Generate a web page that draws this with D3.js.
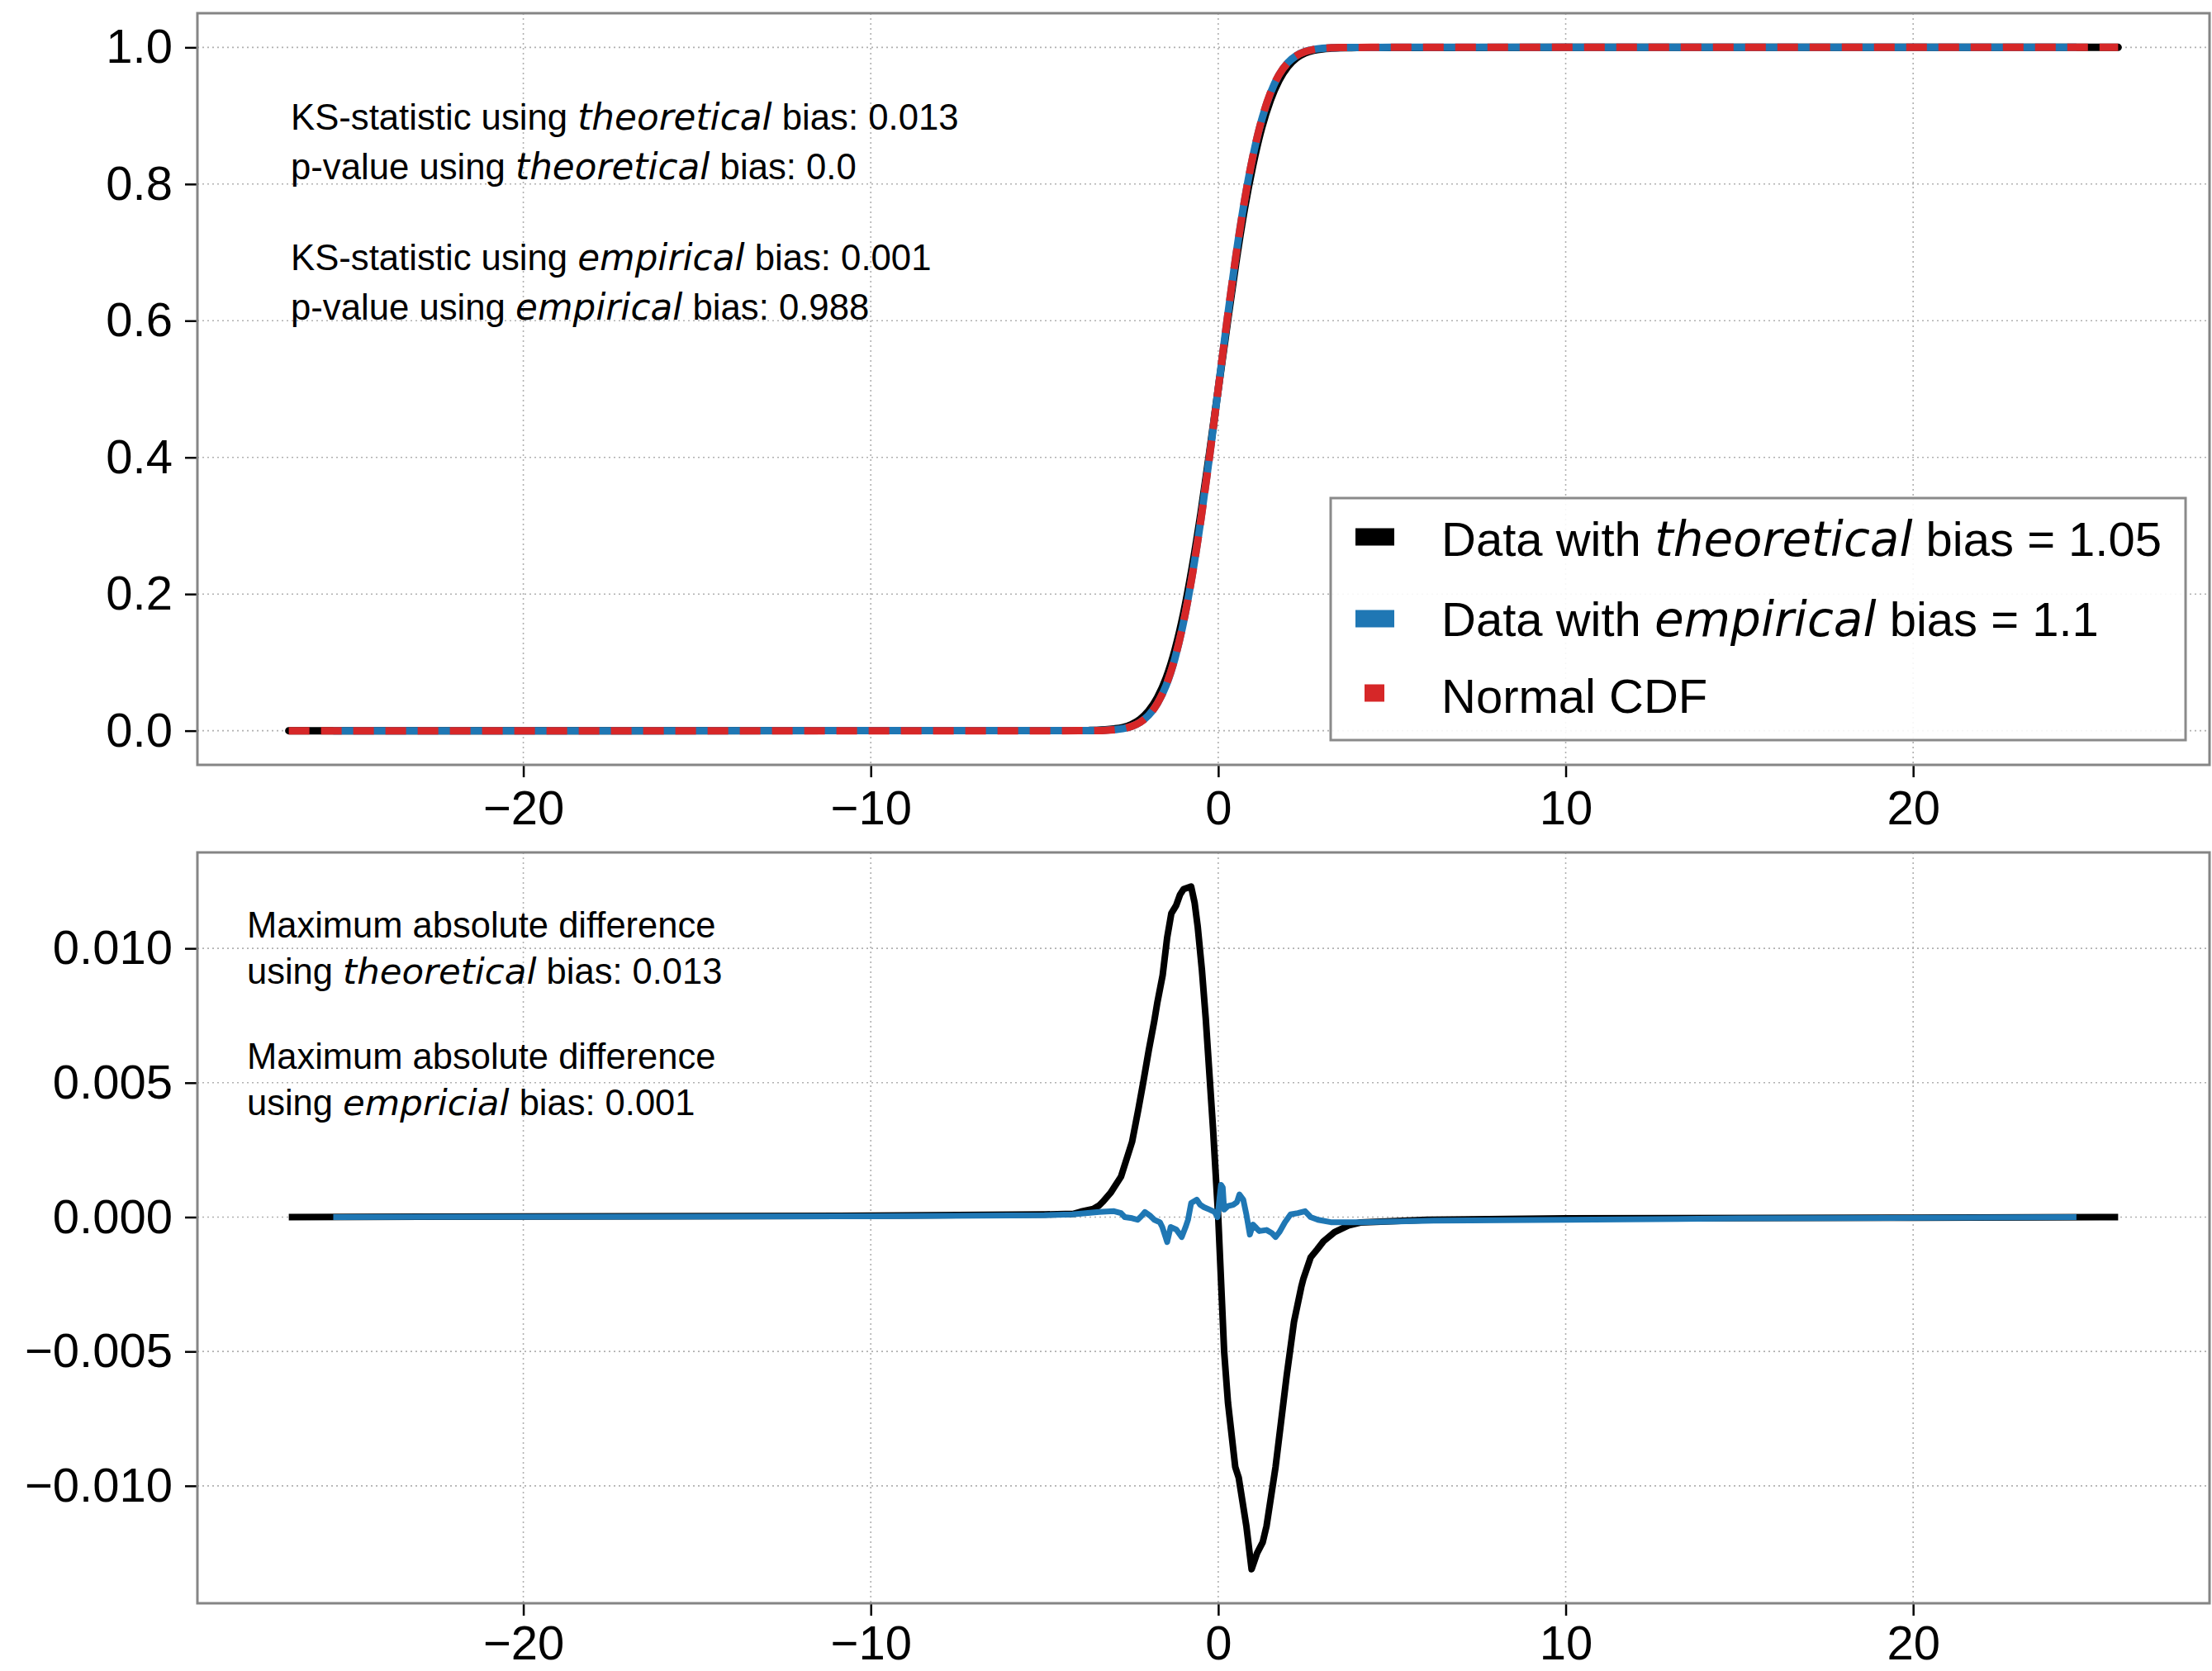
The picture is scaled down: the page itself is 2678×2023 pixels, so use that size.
<!DOCTYPE html>
<html>
<head>
<meta charset="utf-8">
<script src="https://cdn.jsdelivr.net/npm/d3@7"></script>
<style>
  html, body { margin: 0; padding: 0; background: #ffffff; }
  svg { display: block; }
  text { font-family: "Liberation Sans", Arial, Helvetica, sans-serif; fill: #000; }
  .it { font-family: "DejaVu Sans", sans-serif; font-style: italic; }
</style>
</head>
<body>
<svg id="chart" width="2678" height="2023"></svg>
<script>
// ---------------- data ----------------
const xTicks = [-20, -10, 0, 10, 20];
const xTickLabels = ["\u221220", "\u221210", "0", "10", "20"];
const cdfTicks = [0.0, 0.2, 0.4, 0.6, 0.8, 1.0];
const cdfTickLabels = ["0.0", "0.2", "0.4", "0.6", "0.8", "1.0"];
const diffTicks = [-0.010, -0.005, 0.0, 0.005, 0.010];
const diffTickLabels = ["\u22120.010", "\u22120.005", "0.000", "0.005", "0.010"];

// x positions of the CDF samples
const cdfX = [-26.75, -10, -5, -4, -3.75, -3.5, -3.25, -3, -2.75, -2.5, -2.25, -2, -1.75, -1.5, -1.25, -1,
  -0.75, -0.5, -0.25, 0, 0.25, 0.5, 0.75, 1, 1.25, 1.5, 1.75, 2, 2.25, 2.5, 2.75, 3, 3.25, 3.5, 3.75, 4, 5, 10, 25.9];
// Normal CDF (red dashed)
const normalCdf = [0, 0, 0, 0.00003, 0.00009, 0.00023, 0.00058, 0.00135, 0.00298, 0.00621, 0.01222, 0.02275,
  0.04006, 0.06681, 0.10565, 0.15866, 0.22663, 0.30854, 0.40129, 0.5, 0.59871, 0.69146, 0.77337, 0.84134,
  0.89435, 0.93319, 0.95994, 0.97725, 0.98778, 0.99379, 0.99702, 0.99865, 0.99942, 0.99977, 0.99991, 0.99997, 1, 1, 1];
// Data with theoretical bias (black)
const theoCdf = [0, 0.00002, 0.00008, 0.0001, 0.0003, 0.0006, 0.0013, 0.0026, 0.0047, 0.0089, 0.0165, 0.0290,
  0.0483, 0.0768, 0.1173, 0.1709, 0.2388, 0.3180, 0.4065, 0.5000, 0.5922, 0.6821, 0.7622, 0.8284,
  0.8822, 0.9226, 0.9519, 0.9717, 0.9844, 0.9917, 0.9957, 0.9978, 0.9988, 0.9994, 0.9996, 0.9998, 0.9999, 1, 1];
// x positions of the empirical-bias CDF (shorter range)
const empX = [-25.47, -10, -5, -4, -3.75, -3.5, -3.25, -3, -2.75, -2.5, -2.25, -2, -1.75, -1.5, -1.25, -1,
  -0.75, -0.5, -0.25, 0, 0.25, 0.5, 0.75, 1, 1.25, 1.5, 1.75, 2, 2.25, 2.5, 2.75, 3, 3.25, 3.5, 3.75, 4, 5, 10, 24.7];
// Data with empirical bias (blue)
const empCdf = [0, 0.00003, 0.00007, 0.0001, 0.0002, 0.0004, 0.0008, 0.0016, 0.0030, 0.0062, 0.0123, 0.0228,
  0.0399, 0.0661, 0.1051, 0.1584, 0.2271, 0.3090, 0.4015, 0.5001, 0.5991, 0.6920, 0.7739, 0.8410,
  0.8938, 0.9326, 0.9599, 0.9774, 0.9879, 0.9940, 0.9970, 0.9985, 0.9992, 0.9996, 0.9998, 0.9999, 1, 1, 1];

// Difference to the normal CDF, theoretical bias (black)
const diffTheoX = [-26.75, -20, -10, -5, -4.17, -3.96, -3.6, -3.43, -3.33, -3.1, -2.8, -2.48, -2.3, -2.16, -2.0,
  -1.84, -1.75, -1.6, -1.47, -1.35, -1.21, -1.10, -1.0, -0.78, -0.68, -0.59, -0.47, -0.36, -0.15, 0, 0.17, 0.28,
  0.49, 0.59, 0.81, 0.96, 1.12, 1.28, 1.39, 1.65, 1.97, 2.18, 2.39, 2.45, 2.66, 2.85, 3.03, 3.35, 3.77, 4.09, 6, 10, 20, 25.9];
const diffTheoY = [0, 0.00002, 0.00005, 0.0001, 0.00012, 0.0002, 0.0003, 0.00043, 0.00056, 0.0009, 0.0015, 0.0028,
  0.0040, 0.0050, 0.0062, 0.0073, 0.0080, 0.0090, 0.0104, 0.0113, 0.0116, 0.0120, 0.0122, 0.0123, 0.0117, 0.0108,
  0.0092, 0.0074, 0.0033, 0, -0.0050, -0.0069, -0.0093, -0.0097, -0.0115, -0.0131, -0.0125, -0.0121, -0.0115,
  -0.0093, -0.0059, -0.0039, -0.0026, -0.0023, -0.0015, -0.0012, -0.0009, -0.00056, -0.0003, -0.0002, -0.0001,
  -0.00005, -0.00002, 0];
// Difference to the normal CDF, empirical bias (blue)
const diffEmpX = [-25.47, -10, -5, -4.2, -3.43, -3.0, -2.8, -2.69, -2.48, -2.32, -2.21, -2.11, -1.95, -1.84, -1.68,
  -1.61, -1.47, -1.37, -1.21, -1.05, -0.94, -0.87, -0.78, -0.62, -0.52, -0.41, -0.25, -0.1, -0.02, 0.04, 0.08, 0.13,
  0.17, 0.28, 0.43, 0.54, 0.61, 0.72, 0.81, 0.91, 1.0, 1.07, 1.18, 1.39, 1.55, 1.65, 1.76, 1.92, 2.08, 2.29, 2.5,
  2.66, 2.87, 3.24, 4.09, 6.2, 10, 15, 24.7];
const diffEmpY = [0, 0.00003, 0.00007, 0.0001, 0.00019, 0.00022, 0.00015, 0, -0.00004, -0.0001, 0.00004, 0.00019,
  0.00004, -0.0001, -0.00019, -0.00037, -0.00093, -0.00037, -0.00046, -0.00074, -0.00037, -0.0001, 0.00052, 0.00065,
  0.00046, 0.00037, 0.00028, 0.00019, 0, 0.00074, 0.0012, 0.0011, 0.00028, 0.00041, 0.00046, 0.00056, 0.00084,
  0.00065, 0.0001, -0.00065, -0.00028, -0.00037, -0.00052, -0.00048, -0.0006, -0.00074, -0.00056, -0.00019, 0.0001,
  0.00015, 0.00022, 0, -0.0001, -0.00019, -0.00019, -0.00013, -0.0001, -0.00005, 0];

const legendLabels = [
  [["Data with ", ""], ["theoretical", "it"], [" bias = 1.05", ""]],
  [["Data with ", ""], ["empirical", "it"], [" bias = 1.1", ""]],
  [["Normal CDF", ""]]
];
const topNotes = [
  [["KS-statistic using ", ""], ["theoretical", "it"], [" bias: 0.013", ""]],
  [["p-value using ", ""], ["theoretical", "it"], [" bias: 0.0", ""]],
  [["KS-statistic using ", ""], ["empirical", "it"], [" bias: 0.001", ""]],
  [["p-value using ", ""], ["empirical", "it"], [" bias: 0.988", ""]]
];
const bottomNotes = [
  [["Maximum absolute difference", ""]],
  [["using ", ""], ["theoretical", "it"], [" bias: 0.013", ""]],
  [["Maximum absolute difference", ""]],
  [["using ", ""], ["empricial", "it"], [" bias: 0.001", ""]]
];

// ---------------- layout ----------------
const svg = d3.select("#chart");
const L = 239, R = 2675;
const topBox = { t: 16, b: 926 };
const botBox = { t: 1032, b: 1941 };
const xDomain = [-29.38, 28.53];
const colors = { black: "#000000", blue: "#1f77b4", red: "#d62728" };
const tickFont = 58;

const x = d3.scaleLinear().domain(xDomain).range([L, R]);
const yTop = d3.scaleLinear().domain([-0.05, 1.05]).range([topBox.b, topBox.t]);
const yBot = d3.scaleLinear().domain([-0.01437, 0.01357]).range([botBox.b, botBox.t]);

function zip(xs, ys) { return xs.map((v, i) => [v, ys[i]]); }

function drawPanel(box, y, yTicks, yLabels, xPad) {
  const g = svg.append("g");
  const grid = g.append("g");
  grid.selectAll("line.gx").data(xTicks).join("line")
    .attr("x1", d => x(d)).attr("x2", d => x(d))
    .attr("y1", box.t).attr("y2", box.b)
    .attr("stroke", "#b0b0b0").attr("stroke-width", 1.6).attr("stroke-dasharray", "2,4");
  grid.selectAll("line.gy").data(yTicks).join("line")
    .attr("x1", L).attr("x2", R)
    .attr("y1", d => y(d)).attr("y2", d => y(d))
    .attr("stroke", "#b0b0b0").attr("stroke-width", 1.6).attr("stroke-dasharray", "2,4");

  const xAxis = d3.axisBottom(x).tickValues(xTicks)
    .tickFormat((d, i) => xTickLabels[i]).tickSize(15).tickPadding(xPad);
  const yAxis = d3.axisLeft(y).tickValues(yTicks)
    .tickFormat((d, i) => yLabels[i]).tickSize(15).tickPadding(15);
  const gx = svg.append("g").attr("transform", `translate(0,${box.b})`).call(xAxis);
  const gy = svg.append("g").attr("transform", `translate(${L},0)`).call(yAxis);
  [gx, gy].forEach(a => {
    a.select(".domain").remove();
    a.selectAll(".tick line").attr("stroke", "#000").attr("stroke-width", 2.5);
    a.selectAll(".tick text").attr("font-size", tickFont)
      .attr("font-family", "Liberation Sans, Arial, sans-serif").attr("fill", "#000");
  });
  gx.selectAll(".tick text").attr("dy", "0.71em");
  return g;
}

function frame(box) {
  svg.append("rect").attr("x", L).attr("y", box.t)
    .attr("width", R - L).attr("height", box.b - box.t)
    .attr("fill", "none").attr("stroke", "#858585").attr("stroke-width", 3);
}

function writeLines(lines, x0, baselines, size) {
  lines.forEach((parts, i) => {
    const t = svg.append("text").attr("x", x0).attr("y", baselines[i]).attr("font-size", size);
    parts.forEach(([s, cls]) => {
      const sp = t.append("tspan").text(s);
      if (cls) sp.attr("class", cls);
    });
  });
}

// ---------------- top panel ----------------
drawPanel(topBox, yTop, cdfTicks, cdfTickLabels, 16);
const lineTop = d3.line().x(d => x(d[0])).y(d => yTop(d[1])).curve(d3.curveMonotoneX);
svg.append("clipPath").attr("id", "clipTop").append("rect")
  .attr("x", L).attr("y", topBox.t).attr("width", R - L).attr("height", topBox.b - topBox.t);
const gTop = svg.append("g").attr("clip-path", "url(#clipTop)");
gTop.append("path").datum(zip(cdfX, theoCdf)).attr("d", lineTop)
  .attr("fill", "none").attr("stroke", colors.black).attr("stroke-width", 9).attr("stroke-linecap", "round");
gTop.append("path").datum(zip(empX, empCdf)).attr("d", lineTop)
  .attr("fill", "none").attr("stroke", colors.blue).attr("stroke-width", 9).attr("stroke-linecap", "butt");
gTop.append("path").datum(zip(cdfX, normalCdf)).attr("d", lineTop)
  .attr("fill", "none").attr("stroke", colors.red).attr("stroke-width", 9)
  .attr("stroke-dasharray", "25,14").attr("stroke-linecap", "butt");
frame(topBox);

writeLines(topNotes, 352, [157, 217, 327, 387], 43.7);

// legend
const lg = svg.append("g");
lg.append("rect").attr("x", 1611).attr("y", 603).attr("width", 1035).attr("height", 293)
  .attr("fill", "#ffffff").attr("fill-opacity", 0.9).attr("stroke", "#8a8a8a").attr("stroke-width", 3);
const legendRows = [
  { y: 650, color: colors.black, x1: 1641, x2: 1688, base: 673 },
  { y: 749, color: colors.blue, x1: 1641, x2: 1688, base: 770 },
  { y: 839, color: colors.red, x1: 1652, x2: 1676, base: 863 }
];
legendRows.forEach((r, i) => {
  lg.append("line").attr("x1", r.x1).attr("x2", r.x2).attr("y1", r.y).attr("y2", r.y)
    .attr("stroke", r.color).attr("stroke-width", 21);
  const t = lg.append("text").attr("x", 1745).attr("y", r.base).attr("font-size", 58);
  legendLabels[i].forEach(([s, cls]) => {
    const sp = t.append("tspan").text(s);
    if (cls) sp.attr("class", cls);
  });
});

// ---------------- bottom panel ----------------
drawPanel(botBox, yBot, diffTicks, diffTickLabels, 12);
const lineBot = d3.line().x(d => x(d[0])).y(d => yBot(d[1]));
const gBot = svg.append("g");
gBot.append("path").datum(zip(diffTheoX, diffTheoY)).attr("d", lineBot)
  .attr("fill", "none").attr("stroke", colors.black).attr("stroke-width", 8)
  .attr("stroke-linejoin", "round").attr("stroke-linecap", "butt");
gBot.append("path").datum(zip(diffEmpX, diffEmpY)).attr("d", lineBot)
  .attr("fill", "none").attr("stroke", colors.blue).attr("stroke-width", 7)
  .attr("stroke-linejoin", "round").attr("stroke-linecap", "butt");
frame(botBox);

writeLines(bottomNotes, 299, [1135, 1191, 1294, 1350], 43.5);
</script>
</body>
</html>
